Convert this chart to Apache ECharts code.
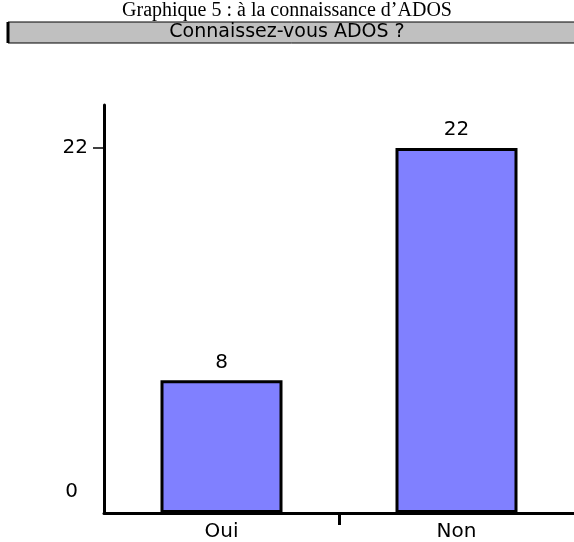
<!DOCTYPE html>
<html>
<head>
<meta charset="utf-8">
<script src="https://cdn.jsdelivr.net/npm/echarts@6/dist/echarts.min.js"></script>
<style>
  html, body { margin: 0; padding: 0; background: #fff; }
  #chart { width: 574px; height: 542px; }
</style>
</head>
<body>
<div id="chart"></div>
<script>
// données du graphique
var categories = ['Oui', 'Non'];
var values = [8, 22];
var yTickValues = [0, 22];

var chart = echarts.init(document.getElementById('chart'));
var sans = 'DejaVu Sans';

var option = {
  backgroundColor: '#fff',
  animation: false,
  title: [
    {
      text: 'Graphique 5 : à la connaissance d’ADOS',
      left: 'center',
      top: 1,
      padding: 0,
      textStyle: { fontFamily: 'Liberation Serif', fontSize: 20, fontWeight: 'normal', color: '#000' }
    },
    {
      text: 'Connaissez-vous ADOS ?',
      left: 'center',
      top: 23,
      padding: 0,
      textStyle: { fontFamily: sans, fontSize: 19, fontWeight: 'normal', color: '#000' }
    }
  ],
  // cadre gris du sous-titre
  graphic: [
    {
      type: 'rect',
      z: -1,
      shape: { x: 8, y: 22, width: 570, height: 21 },
      style: { fill: '#c0c0c0', stroke: '#000', lineWidth: 1 }
    },
    {
      type: 'line',
      z: -1,
      shape: { x1: 8, y1: 22, x2: 8, y2: 43 },
      style: { stroke: '#000', lineWidth: 3 }
    }
  ],
  grid: { left: 104, right: 0, top: 105, bottom: 29 },
  xAxis: [
    {
      type: 'category',
      data: categories,
      axisLine: { lineStyle: { color: '#000', width: 3 } },
      axisTick: { show: false },
      axisLabel: { margin: 9, fontFamily: sans, fontSize: 20, color: '#000' }
    },
    {
      // axe auxiliaire : seulement le repère entre les deux catégories
      type: 'value',
      position: 'bottom',
      min: 0,
      max: 2,
      interval: 1,
      splitLine: { show: false },
      axisLine: { show: false },
      axisLabel: { show: false },
      axisTick: { show: true, length: 12, customValues: [1], lineStyle: { color: '#000', width: 3 } }
    }
  ],
  yAxis: {
    type: 'value',
    min: 0,
    max: 24.6,
    splitLine: { show: false },
    axisLine: { show: true, lineStyle: { color: '#000', width: 3 } },
    axisTick: { show: true, length: 11, customValues: [22], lineStyle: { color: '#000', width: 1.5 } },
    axisLabel: {
      customValues: yTickValues,
      margin: 16,
      fontFamily: sans,
      fontSize: 20,
      color: '#000',
      formatter: function (v) {
        return v === 0 ? '{z|0}' : '{n|' + v + '}';
      },
      rich: {
        z: { fontFamily: sans, fontSize: 20, color: '#000', padding: [0, 10, 42, 0] },
        n: { fontFamily: sans, fontSize: 20, color: '#000' }
      }
    }
  },
  series: [
    {
      type: 'bar',
      xAxisIndex: 0,
      data: values,
      barWidth: 122,
      itemStyle: { color: '#8080ff', borderColor: '#000', borderWidth: 3 },
      label: {
        show: true,
        position: 'top',
        distance: 8,
        fontFamily: sans,
        fontSize: 20,
        color: '#000'
      }
    }
  ]
};
chart.setOption(option);
</script>
</body>
</html>
